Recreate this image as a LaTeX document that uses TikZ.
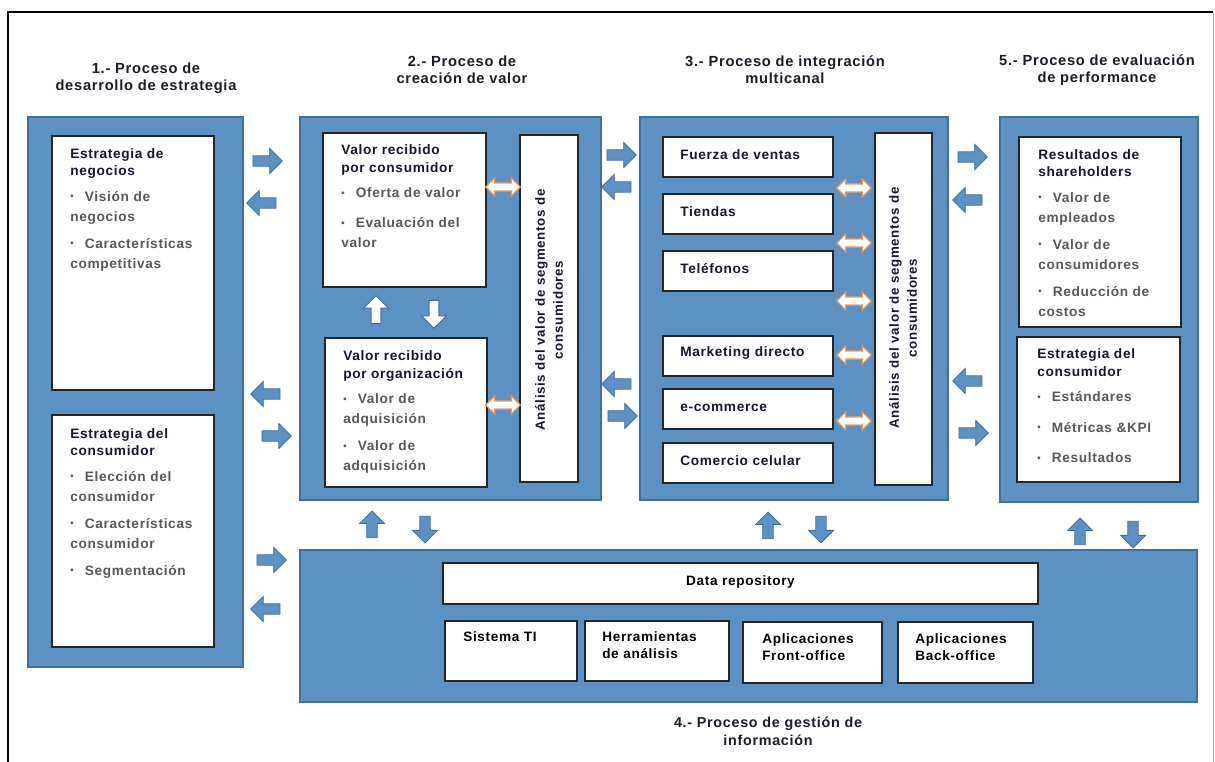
\documentclass[tikz,border=0pt]{standalone}
\usepackage{fontspec}
\usepackage{graphicx}
\setmainfont{Liberation Sans}[LetterSpace=5]
\usetikzlibrary{shapes.arrows,fit}
\definecolor{procblue}{RGB}{92,145,195}
\definecolor{procedge}{RGB}{66,111,160}
\definecolor{itemgray}{RGB}{88,88,92}
\definecolor{headnavy}{RGB}{22,22,48}
\definecolor{titleblack}{RGB}{28,28,40}
\definecolor{linkorange}{RGB}{240,150,85}
\newcommand\hd[1]{\textcolor{headnavy}{#1}}
\newcommand\bul{\raisebox{0.9pt}{\scalebox{0.7}{•}}\ \ \,}
\begin{document}
\begin{tikzpicture}[x=0.75pt,y=-0.75pt]
\tikzset{
  procbox/.style={rectangle, fill=procblue, draw=procedge, line width=2.2pt, inner sep=0pt},
  panelbox/.style={rectangle, fill=white, draw=black!85, line width=1pt, inner sep=0pt},
  ptext/.style={anchor=north west, align=left, inner sep=0pt, text=itemgray,
    font=\fontsize{10.25}{15}\selectfont\bfseries},
  ctext/.style={inner sep=0pt, align=left, text=headnavy,
    font=\fontsize{10.25}{12.75}\selectfont\bfseries},
  btext/.style={inner sep=0pt, align=left, text=black,
    font=\fontsize{10.2}{12.75}\selectfont\bfseries},
  ttl/.style={align=center, inner sep=0pt, text=titleblack,
    font=\fontsize{11}{12.75}\selectfont\bfseries},
  vtext/.style={align=center, inner sep=0pt, rotate=90, text=headnavy,
    font=\fontsize{10}{13.5}\selectfont\bfseries},
  flowarrow/.style={single arrow, fill=procblue, draw=procedge, line width=0.6pt,
    inner sep=3.6pt, single arrow head extend=5.5pt, single arrow head indent=0pt,
    minimum height=22pt},
  flowR/.style={flowarrow},
  flowL/.style={flowarrow, shape border rotate=180},
  flowU/.style={flowarrow, shape border rotate=90, minimum height=20pt},
  flowD/.style={flowarrow, shape border rotate=270, minimum height=20pt},
  innerarrow/.style={single arrow, fill=white, draw=procedge, line width=0.8pt,
    inner sep=3.2pt, single arrow head extend=5.8pt, single arrow head indent=0pt,
    minimum height=21pt},
  linkarrow/.style={double arrow, fill=white, draw=linkorange, line width=0.9pt,
    inner sep=2.6pt, double arrow head extend=3.8pt, double arrow head indent=0pt,
    minimum height=26pt},
}
\useasboundingbox (0,0) rectangle (1215,762);
\fill[white] (0,0) rectangle (1215,762);

% page frame
\draw[line width=2.2pt] (8,762) -- (8,12) -- (1213,12);
\draw[black!30, line width=0.6pt] (1213,12) -- (1213,762);

% ---------- 1. strategy ----------
\node[ttl] (t1) at (146,78) {1.- Proceso de\\desarrollo de estrategia};
\node[procbox, fit={(28,117)(243,667)}] (p1) {};
\node[panelbox, fit={(52,136)(214,390)}] (p1a) {};
\node[ptext] (p1atx) at (70,148) {\hd{Estrategia de}\\[-2.25pt]\hd{negocios}\\[4.5pt]\bul Visión de\\negocios\\[5.25pt]\bul Características\\competitivas};
\node[panelbox, fit={(52,415)(214,647)}] (p1b) {};
\node[ptext] (p1btx) at (70,428) {\hd{Estrategia del}\\[-2.25pt]\hd{consumidor}\\[4.5pt]\bul Elección del\\consumidor\\[5.25pt]\bul Características\\consumidor\\[5.25pt]\bul Segmentación};

% ---------- 2. value creation ----------
\node[ttl] (t2) at (462,70) {2.- Proceso de\\creación de valor};
\node[procbox, fit={(300,117)(601,500)}] (p2) {};
\node[panelbox, fit={(323,133)(486,287)}] (p2a) {};
\node[ptext] (p2atx) at (341,144) {\hd{Valor recibido}\\[-1.5pt]\hd{por consumidor}\\[4pt]\bul Oferta de valor\\[7.5pt]\bul Evaluación del\\valor};
\node[panelbox, fit={(325,338)(487,487)}] (p2b) {};
\node[ptext] (p2btx) at (343,350) {\hd{Valor recibido}\\[-1.5pt]\hd{por organización}\\[4pt]\bul Valor de\\adquisición\\[5.25pt]\bul Valor de\\adquisición};
\node[panelbox, fit={(520,135)(578,482)}] (p2v) {};
\node[vtext] (p2vtx) at (549,310) {Análisis del valor de segmentos de\\consumidores};
\node[innerarrow, shape border rotate=90] (a2up) at (376,312) {};
\node[innerarrow, shape border rotate=270] (a2dn) at (434,312) {};
\node[linkarrow] (l2a) at (503,187) {};
\node[linkarrow] (l2b) at (503,405) {};

% ---------- 3. multichannel ----------
\node[ttl] (t3) at (785,70) {3.- Proceso de integración\\multicanal};
\node[procbox, fit={(640,117)(948,500)}] (p3) {};
\node[panelbox, fit={(663,137)(833,177)}] (c1) {};
\node[ctext, anchor=west] (c1tx) at (680,155) {Fuerza de ventas};
\node[panelbox, fit={(663,194)(833,234)}] (c2) {};
\node[ctext, anchor=west] (c2tx) at (680,212) {Tiendas};
\node[panelbox, fit={(663,251)(833,291)}] (c3) {};
\node[ctext, anchor=west] (c3tx) at (680,269) {Teléfonos};
\node[panelbox, fit={(663,336)(833,376)}] (c4) {};
\node[ctext, anchor=west] (c4tx) at (680,353) {Marketing directo};
\node[panelbox, fit={(663,389)(833,429)}] (c5) {};
\node[ctext, anchor=west] (c5tx) at (680,408) {e-commerce};
\node[panelbox, fit={(663,443)(833,483)}] (c6) {};
\node[ctext, anchor=west] (c6tx) at (680,461) {Comercio celular};
\node[panelbox, fit={(875,133)(932,485)}] (p3v) {};
\node[vtext] (p3vtx) at (903,308) {Análisis del valor de segmentos de\\consumidores};
\node[linkarrow] (l3a) at (854,188) {};
\node[linkarrow] (l3b) at (854,243) {};
\node[linkarrow] (l3c) at (854,301) {};
\node[linkarrow] (l3d) at (854,355) {};
\node[linkarrow] (l3e) at (854,421) {};

% ---------- 5. performance ----------
\node[ttl] (t5) at (1097,70) {5.- Proceso de evaluación\\de performance};
\node[procbox, fit={(1000,117)(1198,502)}] (p5) {};
\node[panelbox, fit={(1019,137)(1181,327)}] (p5a) {};
\node[ptext] (p5atx) at (1038,149) {\hd{Resultados de}\\[-2.25pt]\hd{shareholders}\\[4.5pt]\bul Valor de\\empleados\\[5.25pt]\bul Valor de\\consumidores\\[5.25pt]\bul Reducción de\\costos};
\node[panelbox, fit={(1017,337)(1180,482)}] (p5b) {};
\node[ptext] (p5btx) at (1037,348) {\hd{Estrategia del}\\[-1.5pt]\hd{consumidor}\\[4pt]\bul Estándares\\[8pt]\bul Métricas \&KPI\\[8pt]\bul Resultados};

% ---------- 4. information ----------
\node[procbox, fit={(300,550)(1197,702)}] (p4) {};
\node[panelbox, fit={(443,563)(1038,604)}] (d0) {};
\node[btext] (d0tx) at (740.5,582) {Data repository};
\node[panelbox, fit={(445,621)(577,681)}] (d1) {};
\node[btext, anchor=north west] (d1tx) at (463,631) {Sistema TI};
\node[panelbox, fit={(585,621)(729,681)}] (d2) {};
\node[btext, anchor=north west] (d2tx) at (602,631) {Herramientas\\de análisis};
\node[panelbox, fit={(743,622)(882,683)}] (d3) {};
\node[btext, anchor=north west] (d3tx) at (762,633) {Aplicaciones\\Front-office};
\node[panelbox, fit={(898,622)(1033,683)}] (d4) {};
\node[btext, anchor=north west] (d4tx) at (915,633) {Aplicaciones\\Back-office};
\node[ttl, font=\fontsize{10.75}{13.5}\selectfont\bfseries] (t4) at (768,731) {4.- Proceso de gestión de\\información};

% ---------- flows between processes ----------
\node[flowR] (f12a) at (265,161) {};
\node[flowL] (f21a) at (264,203) {};
\node[flowL] (f21b) at (268,394) {};
\node[flowR] (f12b) at (274,436) {};
\node[flowR] (f14a) at (269,560) {};
\node[flowL] (f41a) at (268,609) {};

\node[flowR] (f23a) at (619,155) {};
\node[flowL] (f32a) at (619,187) {};
\node[flowL] (f32b) at (619,384) {};
\node[flowR] (f23b) at (620,416) {};

\node[flowR] (f35a) at (970,157) {};
\node[flowL] (f53a) at (970,200) {};
\node[flowL] (f53b) at (970,381) {};
\node[flowR] (f35b) at (971,433) {};

\node[flowU] (f42u) at (372,527) {};
\node[flowD] (f24d) at (425,527) {};
\node[flowU] (f43u) at (768,528) {};
\node[flowD] (f34d) at (821,527) {};
\node[flowU] (f45u) at (1080,534) {};
\node[flowD] (f54d) at (1133,532) {};
\end{tikzpicture}
\end{document}
